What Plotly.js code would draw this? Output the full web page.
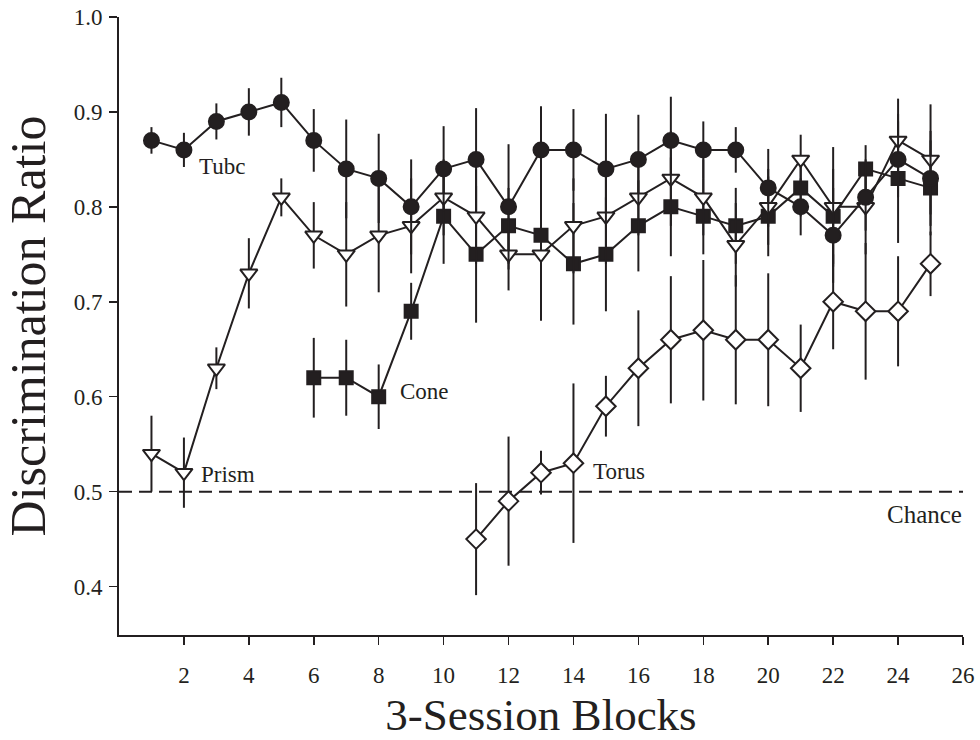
<!DOCTYPE html>
<html>
<head>
<meta charset="utf-8">
<script src="https://cdn.plot.ly/plotly-3.0.1.min.js"></script>
<style>html,body{margin:0;padding:0;background:#fff;}#chart{width:980px;height:740px;}</style>
</head>
<body>
<div id="chart"></div>
<script>
// ---- data ----
const tubeX = [1,2,3,4,5,6,7,8,9,10,11,12,13,14,15,16,17,18,19,20,21,22,23,24,25];
const tubeY = [0.87,0.86,0.89,0.90,0.91,0.87,0.84,0.83,0.80,0.84,0.85,0.80,0.86,0.86,0.84,0.85,0.87,0.86,0.86,0.82,0.80,0.77,0.81,0.85,0.83];
const tubeErr = [0.014,0.018,0.019,0.025,0.026,0.033,0.052,0.047,0.050,0.045,0.054,0.066,0.046,0.043,0.058,0.047,0.046,0.030,0.024,0.041,0.030,0.050,0.035,0.040,0.050];

const prismX = [1,2,3,4,5,6,7,8,9,10,11,12,13,14,15,16,17,18,19,20,21,22,23,24,25];
const prismY = [0.54,0.52,0.63,0.73,0.81,0.77,0.75,0.77,0.78,0.81,0.79,0.75,0.75,0.78,0.79,0.81,0.83,0.81,0.76,0.80,0.85,0.80,0.80,0.87,0.85];
const prismErr = [0.040,0.037,0.022,0.037,0.020,0.035,0.055,0.060,0.050,0.040,0.050,0.038,0.070,0.050,0.050,0.040,0.050,0.040,0.044,0.040,0.026,0.063,0.050,0.044,0.058];

const coneX = [6,7,8,9,10,11,12,13,14,15,16,17,18,19,20,21,22,23,24,25];
const coneY = [0.62,0.62,0.60,0.69,0.79,0.75,0.78,0.77,0.74,0.75,0.78,0.80,0.79,0.78,0.79,0.82,0.79,0.84,0.83,0.82];
const coneErr = [0.042,0.040,0.034,0.030,0.050,0.072,0.040,0.050,0.064,0.060,0.048,0.052,0.040,0.040,0.042,0.030,0.050,0.025,0.068,0.050];

const torusX = [11,12,13,14,15,16,17,18,19,20,21,22,23,24,25];
const torusY = [0.45,0.49,0.52,0.53,0.59,0.63,0.66,0.67,0.66,0.66,0.63,0.70,0.69,0.69,0.74];
const torusErr = [0.059,0.068,0.023,0.084,0.032,0.061,0.067,0.074,0.068,0.070,0.046,0.050,0.072,0.058,0.034];

const chanceLevel = 0.5;
const xTicks = [2,4,6,8,10,12,14,16,18,20,22,24,26];
const yTicks = [0.4,0.5,0.6,0.7,0.8,0.9,1.0];
const yTickText = ["0.4","0.5","0.6","0.7","0.8","0.9","1.0"];

const seriesLabels = ["Tubc","Prism","Cone","Torus","Chance"];

// ---- styling ----
const FONT = "Liberation Serif, Times New Roman, serif";
const INK = "#231f20";

function series(x, y, err, symbol, size, fill) {
  return {
    type: "scatter", mode: "lines+markers", x: x, y: y,
    line: {color: INK, width: 2},
    marker: {symbol: symbol, size: size, color: fill, line: {color: INK, width: 2}},
    error_y: {type: "data", array: err, visible: true, color: INK, thickness: 2, width: 0},
    cliponaxis: false, showlegend: false, hoverinfo: "x+y"
  };
}

const traces = [
  series(torusX, torusY, torusErr, "diamond", 15, "#ffffff"),
  series(coneX, coneY, coneErr, "square", 13, INK),
  series(prismX, prismY, prismErr, "triangle-down", 15, "#ffffff"),
  series(tubeX, tubeY, tubeErr, "circle", 15, INK)
];

const annFont = {family: FONT, size: 23, color: INK};
const layout = {
  width: 980, height: 740,
  margin: {l: 119, r: 17, t: 17, b: 105},
  paper_bgcolor: "#ffffff", plot_bgcolor: "#ffffff",
  font: {family: FONT, color: INK},
  xaxis: {
    range: [0, 26], showgrid: false, zeroline: false,
    showline: true, linecolor: INK, linewidth: 2,
    ticks: "outside", ticklen: 8, tickwidth: 1.5, tickcolor: INK,
    ticklabelstandoff: 10,
    tickvals: xTicks, ticktext: xTicks.map(String),
    tickfont: {family: FONT, size: 23, color: INK},
    title: {text: "3-Session Blocks", font: {family: FONT, size: 45, color: INK}, standoff: 14}
  },
  yaxis: {
    range: [0.349, 1.0], showgrid: false, zeroline: false,
    showline: true, linecolor: INK, linewidth: 2,
    ticks: "outside", ticklen: 8, tickwidth: 1.5, tickcolor: INK,
    ticklabelstandoff: 2,
    tickvals: yTicks, ticktext: yTickText,
    tickfont: {family: FONT, size: 23, color: INK},
    title: {text: "Discrimination Ratio", font: {family: FONT, size: 50, color: INK}, standoff: 12}
  },
  shapes: [{
    type: "line", xref: "x", yref: "y", x0: 0, x1: 26, y0: chanceLevel, y1: chanceLevel,
    line: {color: INK, width: 2, dash: "13px,7px"}, layer: "below"
  }],
  annotations: [
    {x: 3.16, y: 0.842, text: seriesLabels[0]},
    {x: 3.37, y: 0.518, text: seriesLabels[1]},
    {x: 9.40, y: 0.606, text: seriesLabels[2]},
    {x: 15.40, y: 0.521, text: seriesLabels[3]},
    {x: 24.82, y: 0.476, text: seriesLabels[4], font: {family: FONT, size: 25, color: INK}}
  ].map(a => Object.assign({xref: "x", yref: "y", showarrow: false, font: annFont}, a))
};

Plotly.newPlot("chart", traces, layout, {displayModeBar: false, staticPlot: true});
</script>
</body>
</html>
